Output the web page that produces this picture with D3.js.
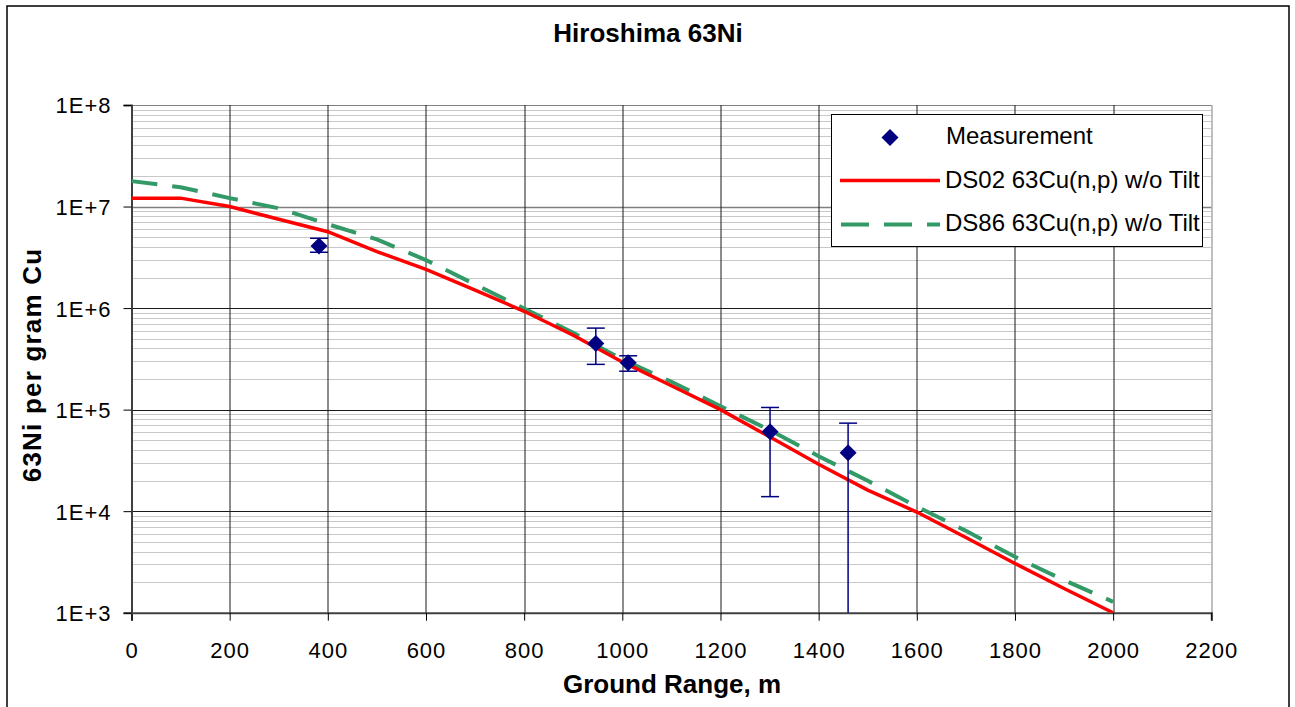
<!DOCTYPE html>
<html>
<head>
<meta charset="utf-8">
<script src="https://cdn.jsdelivr.net/npm/d3@7"></script>
<style>
  body { margin: 0; background: #fff; }
  svg { font-family: Arial, 'Liberation Sans', sans-serif; }
</style>
</head>
<body>
<div id="chart"></div>
<script>
// ground range of the calculated curves (m)
const ranges = [0, 100, 200, 300, 400, 500, 600, 700, 800, 900, 1000, 1100, 1200, 1300, 1400, 1500, 1600, 1700, 1800, 1900, 2000]
// DS02 63Cu(n,p) w/o Tilt
const ds02 = [1.21e7, 1.21e7, 1.0e7, 7.5e6, 5.65e6, 3.6e6, 2.41e6, 1.5e6, 9.3e5, 5.4e5, 2.95e5, 1.72e5, 1.0e5, 5.4e4, 2.9e4, 1.61e4, 9.8e3, 5.5e3, 3.05e3, 1.73e3, 1.0e3]
// DS86 63Cu(n,p) w/o Tilt
const ds86 = [1.78e7, 1.55e7, 1.21e7, 9.6e6, 6.7e6, 4.75e6, 2.97e6, 1.71e6, 9.9e5, 5.7e5, 3.12e5, 1.88e5, 1.08e5, 6.3e4, 3.48e4, 1.99e4, 1.11e4, 6.4e3, 3.55e3, 2.09e3, 1.28e3]
// measurements
const measRange = [382, 946, 1012, 1301, 1460]
const measValue = [4.08e6, 4.49e5, 2.9e5, 6.05e4, 3.76e4]
const measHigh = [4.86e6, 6.35e5, 3.39e5, 1.05e5, 7.36e4]
const measLow = [3.54e6, 2.79e5, 2.39e5, 1.39e4, 0]
// tick labels
const xTicks = [0, 200, 400, 600, 800, 1000, 1200, 1400, 1600, 1800, 2000, 2200]
const yTicks = [1e3, 1e4, 1e5, 1e6, 1e7, 1e8]
const yLabels = ['1E+3', '1E+4', '1E+5', '1E+6', '1E+7', '1E+8']

const W = 1295
const H = 707
const margin = { left: 131.5, top: 105, right: 83.7, bottom: 94.3 }
const pw = W - margin.left - margin.right
const ph = H - margin.top - margin.bottom

const svg = d3.select('#chart').append('svg')
  .attr('width', W)
  .attr('height', H)

// outer frame
svg.append('rect')
  .attr('x', 7).attr('y', 6)
  .attr('width', 1282).attr('height', 710)
  .attr('fill', '#fff')
  .attr('stroke', '#000')
  .attr('stroke-width', 1.5)

svg.append('text')
  .text('Hiroshima 63Ni')
  .attr('x', 648).attr('y', 42)
  .attr('text-anchor', 'middle')
  .attr('style', 'font-size:26px;font-weight:bold;')

const x = d3.scaleLinear().domain([0, 2200]).range([0, pw])
const y = d3.scaleLog().domain([1e3, 1e8]).range([ph, 0])

const g = svg.append('g').attr('transform', `translate(${margin.left},${margin.top})`)

svg.append('clipPath').attr('id', 'plot-clip')
  .append('rect').attr('width', pw).attr('height', ph)

// minor horizontal grid
const minor = []
for (let e = 3; e < 8; e++) {
  for (let m = 2; m <= 9; m++) minor.push(m * Math.pow(10, e))
}
g.append('g').selectAll('line')
  .data(minor)
  .enter().append('line')
  .attr('x1', 0).attr('x2', pw)
  .attr('y1', d => Math.round(y(d)) + 0.5)
  .attr('y2', d => Math.round(y(d)) + 0.5)
  .attr('stroke', '#c8c8c8')
  .attr('stroke-width', 1)

// major horizontal grid
g.append('g').selectAll('line')
  .data(yTicks)
  .enter().append('line')
  .attr('x1', 0).attr('x2', pw)
  .attr('y1', d => Math.round(y(d)) + 0.5)
  .attr('y2', d => Math.round(y(d)) + 0.5)
  .attr('stroke', d => d === 1e8 || d === 1e7 ? '#808080' : '#1a1a1a')
  .attr('stroke-width', d => d === 1e7 ? 1.5 : 1)

// vertical grid
g.append('g').selectAll('line')
  .data(xTicks)
  .enter().append('line')
  .attr('x1', d => Math.round(x(d)) + 0.5)
  .attr('x2', d => Math.round(x(d)) + 0.5)
  .attr('y1', 0).attr('y2', ph)
  .attr('stroke', d => d === 0 || d === 2200 ? '#808080' : '#1a1a1a')
  .attr('stroke-width', 1)

// axes
const xAxis = d3.axisBottom(x).tickValues(xTicks).tickFormat(d3.format('d')).tickSize(8).tickPadding(22)
const yAxis = d3.axisLeft(y).tickValues(yTicks).tickFormat((d, i) => yLabels[i]).tickSize(8).tickPadding(12)

const xAxisG = g.append('g')
  .attr('class', 'x-axis')
  .attr('transform', `translate(0,${ph})`)
  .call(xAxis)
const yAxisG = g.append('g')
  .attr('class', 'y-axis')
  .call(yAxis)

;[xAxisG, yAxisG].forEach(a => {
  a.select('.domain').attr('stroke', '#404040').attr('stroke-width', 2)
  a.selectAll('.tick line').attr('stroke', '#000')
  a.selectAll('.tick text')
    .attr('fill', '#000')
    .attr('style', 'font-size:22px;letter-spacing:1px;font-family:Arial, Liberation Sans, sans-serif;')
})
yAxisG.selectAll('.tick text').attr('dy', '0.36em')

// axis titles
svg.append('text')
  .text('Ground Range, m')
  .attr('x', 672).attr('y', 693)
  .attr('text-anchor', 'middle')
  .attr('style', 'font-size:26px;font-weight:bold;')

svg.append('text')
  .text('63Ni per gram Cu')
  .attr('transform', 'translate(41,365) rotate(-90)')
  .attr('text-anchor', 'middle')
  .attr('style', 'font-size:26px;font-weight:bold;letter-spacing:1.2px;')

// curves
const line = d3.line()
  .x((d, i) => x(ranges[i]))
  .y(d => y(d))

const plot = g.append('g').attr('clip-path', 'url(#plot-clip)')

plot.append('path')
  .datum(ds86)
  .attr('d', line)
  .attr('fill', 'none')
  .attr('stroke', '#339966')
  .attr('stroke-width', 4)
  .attr('stroke-dasharray', '26,15')

plot.append('path')
  .datum(ds02)
  .attr('d', line)
  .attr('fill', 'none')
  .attr('stroke', '#ff0000')
  .attr('stroke-width', 3.5)

// measurements with error bars
const navy = '#000080'
const yv = v => v > 0 ? y(v) : ph + 10
const meas = measRange.map((r, i) => ({ r, v: measValue[i], hi: measHigh[i], lo: measLow[i] }))
const err = plot.append('g').selectAll('g')
  .data(meas)
  .enter().append('g')
  .attr('stroke', navy)
  .attr('stroke-width', 1.5)
err.append('line')
  .attr('x1', d => x(d.r)).attr('x2', d => x(d.r))
  .attr('y1', d => yv(d.hi)).attr('y2', d => yv(d.lo))
err.append('line')
  .attr('x1', d => x(d.r) - 9).attr('x2', d => x(d.r) + 9)
  .attr('y1', d => yv(d.hi)).attr('y2', d => yv(d.hi))
err.filter(d => d.lo > 0).append('line')
  .attr('x1', d => x(d.r) - 9).attr('x2', d => x(d.r) + 9)
  .attr('y1', d => yv(d.lo)).attr('y2', d => yv(d.lo))

const diamond = 'M0,-8.5L8.5,0L0,8.5L-8.5,0Z'
plot.append('g').selectAll('path')
  .data(meas)
  .enter().append('path')
  .attr('d', diamond)
  .attr('transform', d => `translate(${x(d.r)},${y(d.v)})`)
  .attr('fill', navy)

// legend
const leg = svg.append('g')
leg.append('rect')
  .attr('x', 831.5).attr('y', 114.5)
  .attr('width', 371).attr('height', 132)
  .attr('fill', '#fff')
  .attr('stroke', '#000')
  .attr('stroke-width', 1)
leg.append('path')
  .attr('d', diamond)
  .attr('transform', 'translate(890,137.5)')
  .attr('fill', navy)
leg.append('line')
  .attr('x1', 840).attr('x2', 940)
  .attr('y1', 180.5).attr('y2', 180.5)
  .attr('stroke', '#ff0000').attr('stroke-width', 3.5)
leg.append('line')
  .attr('x1', 841).attr('x2', 940)
  .attr('y1', 224.5).attr('y2', 224.5)
  .attr('stroke', '#339966').attr('stroke-width', 4)
  .attr('stroke-dasharray', '28,15')
const legText = ['Measurement', 'DS02 63Cu(n,p) w/o Tilt', 'DS86 63Cu(n,p) w/o Tilt']
leg.selectAll('text.leg')
  .data(legText)
  .enter().append('text')
  .attr('class', 'leg')
  .text(d => d)
  .attr('x', (d, i) => i === 0 ? 946 : 945)
  .attr('y', (d, i) => [144, 187.5, 231][i])
  .attr('style', 'font-size:24px;')
</script>
</body>
</html>
